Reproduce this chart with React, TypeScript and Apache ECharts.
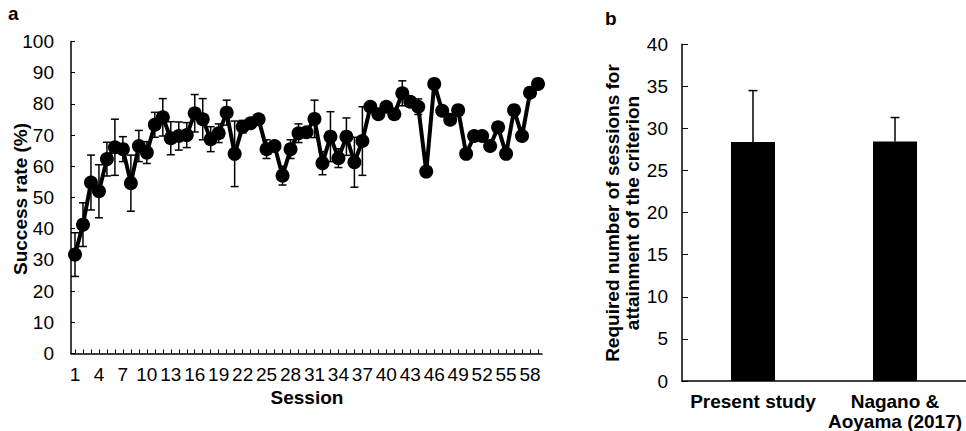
import React, { useEffect, useRef } from "react";
import * as echarts from "echarts";

const FONT = "'Liberation Sans', Arial, sans-serif";

// Panel a: success rate per session
const sessions = [
  "1", "2", "3", "4", "5", "6", "7", "8", "9", "10",
  "11", "12", "13", "14", "15", "16", "17", "18", "19", "20",
  "21", "22", "23", "24", "25", "26", "27", "28", "29", "30",
  "31", "32", "33", "34", "35", "36", "37", "38", "39", "40",
  "41", "42", "43", "44", "45", "46", "47", "48", "49", "50",
  "51", "52", "53", "54", "55", "56", "57", "58", "59",
];
const successRate = [
  31.7, 41.3, 54.8, 52, 62.3, 66.1, 65.5, 54.6, 66.5, 64.4,
  73.3, 75.7, 69, 69.7, 70, 77, 75.1, 68.7, 70.6, 77.2,
  64, 72.7, 73.8, 75.1, 65.5, 66.5, 57, 65.5, 70.6, 70.9,
  75.2, 61, 69.5, 62.6, 69.5, 61.3, 68.1, 79.1, 76.7, 79.1,
  76.7, 83.4, 80.7, 79.1, 58.3, 86.4, 77.8, 74.9, 78, 64,
  69.7, 69.7, 66.5, 72.5, 64, 78, 69.7, 83.6, 86.4,
];
const successSD = [
  7, 7, 8.8, 8.5, 5.4, 9, 4, 9, 5, 3.5,
  4, 6, 5.3, 4.5, 4, 6, 6.6, 4, 3, 4,
  10.5, 2, 1.5, 1, 3, 1.5, 3, 3, 3, 1,
  6, 3.7, 8, 3, 6, 8, 11, 1, 1, 1,
  1, 4, 1.5, 2.5, 0, 0, 0, 0, 0, 0,
  0, 0, 0, 0, 0, 0, 0, 0, 0,
];
const yTicksA = { min: 0, max: 100, interval: 10 };

// Panel b: required number of sessions
const groups = ["Present study", "Nagano &\nAoyama (2017)"];
const requiredSessions = [28.4, 28.45];
const requiredSD = [6.1, 2.85];
const yTicksB = { min: 0, max: 40, interval: 5 };

export default function App() {
  const ref = useRef<HTMLDivElement>(null);

  useEffect(() => {
    if (!ref.current) return;
    const chart = echarts.init(ref.current, undefined, { renderer: "svg" });

    const errA = successSD
      .map((sd, i) => [i, successRate[i] - sd, successRate[i] + sd, sd])
      .filter((d) => d[3] > 0);
    const errB = requiredSD.map((sd, i) => [i, requiredSessions[i], requiredSessions[i] + sd]);

    const errRender = (cap: number, both: boolean, lw: number) => (params: any, api: any) => {
      const x = api.value(0);
      const lo = api.coord([x, api.value(1)]);
      const hi = api.coord([x, api.value(2)]);
      const st = { stroke: "#000", lineWidth: lw };
      const children: any[] = [
        { type: "line", shape: { x1: lo[0], y1: lo[1], x2: hi[0], y2: hi[1] }, style: st },
        { type: "line", shape: { x1: hi[0] - cap, y1: hi[1], x2: hi[0] + cap, y2: hi[1] }, style: st },
      ];
      if (both) {
        children.push({ type: "line", shape: { x1: lo[0] - cap, y1: lo[1], x2: lo[0] + cap, y2: lo[1] }, style: st });
      }
      return { type: "group", children };
    };

    const axisLineStyle = { color: "#000", width: 1.5 };
    const labelBase = { color: "#000", fontSize: 19, fontFamily: FONT };
    const titleStyle = { fontSize: 19, fontWeight: "bold", fontFamily: FONT, fill: "#000" };

    chart.setOption({
      animation: false,
      backgroundColor: "#fff",
      grid: [
        { left: 71, top: 41.5, width: 471, height: 312, outerBoundsMode: "none", containLabel: false },
        { left: 682, top: 44.3, width: 284, height: 336.7, outerBoundsMode: "none", containLabel: false },
      ],
      xAxis: [
        {
          type: "category",
          gridIndex: 0,
          data: sessions,
          boundaryGap: true,
          axisLine: { lineStyle: axisLineStyle },
          axisTick: { show: true, inside: true, length: 4, interval: 0, alignWithLabel: true, lineStyle: { color: "#000", width: 1 } },
          axisLabel: { ...labelBase, interval: 2, margin: 11 },
          splitLine: { show: false },
        },
        {
          type: "category",
          gridIndex: 1,
          data: groups,
          axisLine: { lineStyle: axisLineStyle },
          axisTick: { show: false },
          axisLabel: { ...labelBase, fontWeight: "bold", interval: 0, margin: 11, lineHeight: 19.5, verticalAlign: "top" },
          splitLine: { show: false },
        },
      ],
      yAxis: [
        {
          type: "value",
          gridIndex: 0,
          ...yTicksA,
          axisLine: { show: true, lineStyle: axisLineStyle },
          axisTick: { show: true, inside: true, length: 4, lineStyle: { color: "#000", width: 1 } },
          axisLabel: { ...labelBase, margin: 17 },
          splitLine: { show: false },
        },
        {
          type: "value",
          gridIndex: 1,
          ...yTicksB,
          axisLine: { show: true, lineStyle: axisLineStyle },
          axisTick: { show: true, inside: true, length: 6, lineStyle: { color: "#000", width: 1 } },
          axisLabel: { ...labelBase, margin: 14 },
          splitLine: { show: false },
        },
      ],
      series: [
        {
          type: "custom",
          xAxisIndex: 0,
          yAxisIndex: 0,
          data: errA,
          encode: { x: 0, y: [1, 2] },
          renderItem: errRender(4, true, 1.5),
          z: 1,
        },
        {
          type: "line",
          xAxisIndex: 0,
          yAxisIndex: 0,
          data: successRate,
          symbol: "circle",
          symbolSize: 14,
          showSymbol: true,
          showAllSymbol: true,
          itemStyle: { color: "#000" },
          lineStyle: { color: "#000", width: 4 },
          z: 2,
        },
        {
          type: "bar",
          xAxisIndex: 1,
          yAxisIndex: 1,
          data: requiredSessions,
          barWidth: 44,
          itemStyle: { color: "#000" },
          z: 2,
        },
        {
          type: "custom",
          xAxisIndex: 1,
          yAxisIndex: 1,
          data: errB,
          encode: { x: 0, y: [1, 2] },
          renderItem: errRender(4.5, false, 1.5),
          z: 1,
        },
      ],
      graphic: [
        { type: "text", left: 8, top: 4, style: { text: "a", ...titleStyle } },
        { type: "text", left: 605, top: 9, style: { text: "b", ...titleStyle } },
        {
          type: "text",
          x: 307,
          y: 397,
          style: { text: "Session", ...titleStyle, align: "center", verticalAlign: "middle" },
        },
        {
          type: "text",
          x: 20,
          y: 199,
          rotation: Math.PI / 2,
          style: { text: "Success rate (%)", ...titleStyle, align: "center", verticalAlign: "middle" },
        },
        {
          type: "text",
          x: 612,
          y: 213,
          rotation: Math.PI / 2,
          style: { text: "Required number of sessions for", ...titleStyle, align: "center", verticalAlign: "middle" },
        },
        {
          type: "text",
          x: 632,
          y: 213,
          rotation: Math.PI / 2,
          style: { text: "attainment of the criterion", ...titleStyle, align: "center", verticalAlign: "middle" },
        },
      ],
    });

    return () => chart.dispose();
  }, []);

  return (
    <div
      ref={ref}
      style={{ position: "absolute", left: 0, top: 0, width: 966, height: 431 }}
    />
  );
}
